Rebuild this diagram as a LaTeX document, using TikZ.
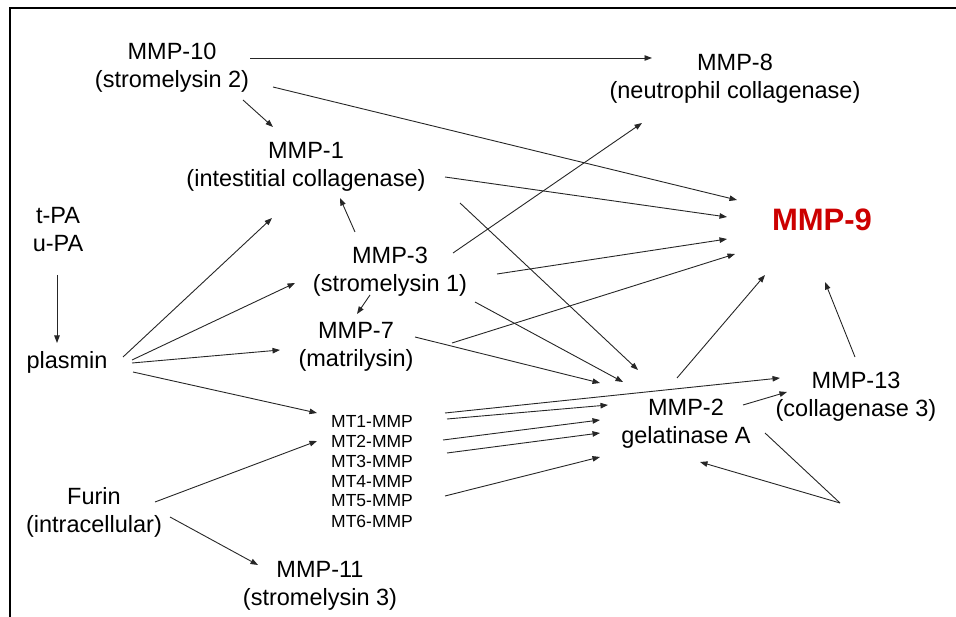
\documentclass[tikz,border=0pt]{standalone}
\usepackage{fontspec}
\setmainfont{Liberation Sans}
\usetikzlibrary{arrows.meta}
\definecolor{mmpred}{RGB}{204,0,0}
\begin{document}
\begin{tikzpicture}[x=1pt,y=-1pt,
  lbl/.style={align=center,inner sep=0pt,font=\fontsize{23.5}{28}\selectfont},
  mtl/.style={inner sep=0pt,font=\fontsize{17.5}{20}\selectfont},
  bigred/.style={inner sep=0pt,text=mmpred,font=\fontsize{31}{36}\selectfont\bfseries},
  arr/.style={draw=black!85,line width=0.9pt,-{Triangle[length=7.5pt,width=5.5pt]}},
  conn/.style={draw=black!85,line width=0.9pt},
  frame/.style={line width=2pt,line cap=rect}]
\useasboundingbox (0,0) rectangle (956,617);
\draw[frame] (10,617) -- (10,8) -- (956,8);
% nodes
\node[lbl] (mmp10) at (172,68) {MMP-10\\(stromelysin 2)};
\node[lbl] (mmp8) at (735,79) {MMP-8\\(neutrophil collagenase)};
\node[lbl] (mmp1) at (306,167) {MMP-1\\(intestitial collagenase)};
\node[lbl] (pa) at (58,230) {t-PA\\u-PA};
\node[lbl] (plasmin) at (67,362) {plasmin};
\node[lbl] (mmp3) at (390,272) {MMP-3\\(stromelysin 1)};
\node[lbl] (mmp7) at (356,347) {MMP-7\\(matrilysin)};
\node[mtl] (mt1) at (372,421) {MT1-MMP};
\node[mtl] (mt2) at (372,441) {MT2-MMP};
\node[mtl] (mt3) at (372,461) {MT3-MMP};
\node[mtl] (mt4) at (372,481) {MT4-MMP};
\node[mtl] (mt5) at (372,501) {MT5-MMP};
\node[mtl] (mt6) at (372,521) {MT6-MMP};
\node[lbl] (mmp2) at (686,424) {MMP-2\\gelatinase A};
\node[lbl] (mmp13) at (856,397) {MMP-13\\(collagenase 3)};
\node[bigred] (mmp9) at (822,220) {MMP-9};
\node[lbl] (furin) at (94,512) {Furin\\(intracellular)};
\node[lbl] (mmp11) at (320,586) {MMP-11\\(stromelysin 3)};
\coordinate (corner) at (840,503);
% connectors
\draw[arr] ([shift={(78,-10)}]mmp10.center) -- ([shift={(-83,-21)}]mmp8.center);
\draw[arr] ([shift={(101,19)}]mmp10.center) -- ([shift={(-85,-20)}]mmp9.center);
\draw[arr] ([shift={(71,32)}]mmp10.center) -- ([shift={(-33,-40)}]mmp1.center);
\draw[arr] ([shift={(139,10)}]mmp1.center) -- ([shift={(-95,-3)}]mmp9.center);
\draw[arr] ([shift={(154,36)}]mmp1.center) -- ([shift={(-48,-54)}]mmp2.center);
\draw[arr] ([shift={(63,-19)}]mmp3.center) -- ([shift={(-93,44)}]mmp8.center);
\draw[arr] ([shift={(107,2)}]mmp3.center) -- ([shift={(-95,19)}]mmp9.center);
\draw[arr] ([shift={(85,30)}]mmp3.center) -- ([shift={(-63,-42)}]mmp2.center);
\draw[arr] ([shift={(-35,-40)}]mmp3.center) -- ([shift={(34,31)}]mmp1.center);
\draw[arr] ([shift={(-20,23)}]mmp3.center) -- ([shift={(1,-33)}]mmp7.center);
\draw[arr] ([shift={(96,-4)}]mmp7.center) -- ([shift={(-87,34)}]mmp9.center);
\draw[arr] ([shift={(59,-10)}]mmp7.center) -- ([shift={(-86,-41)}]mmp2.center);
\draw[arr] ([shift={(-9,-46)}]mmp2.center) -- ([shift={(-57,55)}]mmp9.center);
\draw[arr] ([shift={(-1,-40)}]mmp13.center) -- ([shift={(3,62)}]mmp9.center);
\draw[arr] ([shift={(73,-8)}]mt1.center) -- ([shift={(-76,-19)}]mmp13.center);
\draw[arr] ([shift={(57,-19)}]mmp2.center) -- ([shift={(-69,-5)}]mmp13.center);
\draw[arr] ([shift={(75,-2)}]mt1.center) -- ([shift={(-78,-19)}]mmp2.center);
\draw[arr] ([shift={(71,-1)}]mt2.center) -- ([shift={(-86,-4)}]mmp2.center);
\draw[arr] ([shift={(75,-8)}]mt3.center) -- ([shift={(-86,9)}]mmp2.center);
\draw[arr] ([shift={(73,-5)}]mt5.center) -- ([shift={(-86,33)}]mmp2.center);
\draw[arr] ([shift={(56,-5)}]plasmin.center) -- ([shift={(-34,51)}]mmp1.center);
\draw[arr] ([shift={(65,-2)}]plasmin.center) -- ([shift={(-95,11)}]mmp3.center);
\draw[arr] ([shift={(65,1)}]plasmin.center) -- ([shift={(-76,3)}]mmp7.center);
\draw[arr] ([shift={(66,10)}]plasmin.center) -- ([shift={(-55,-8)}]mt1.center);
\draw[arr] ([shift={(-1,45)}]pa.center) -- ([shift={(-10,-19)}]plasmin.center);
\draw[arr] ([shift={(61,-10)}]furin.center) -- ([shift={(-55,0)}]mt2.center);
\draw[arr] ([shift={(76,5)}]furin.center) -- ([shift={(-62,-21)}]mmp11.center);
\draw[conn] ([shift={(79,9)}]mmp2.center) -- (corner);
\draw[arr] (corner) -- ([shift={(14,38)}]mmp2.center);
\end{tikzpicture}
\end{document}
